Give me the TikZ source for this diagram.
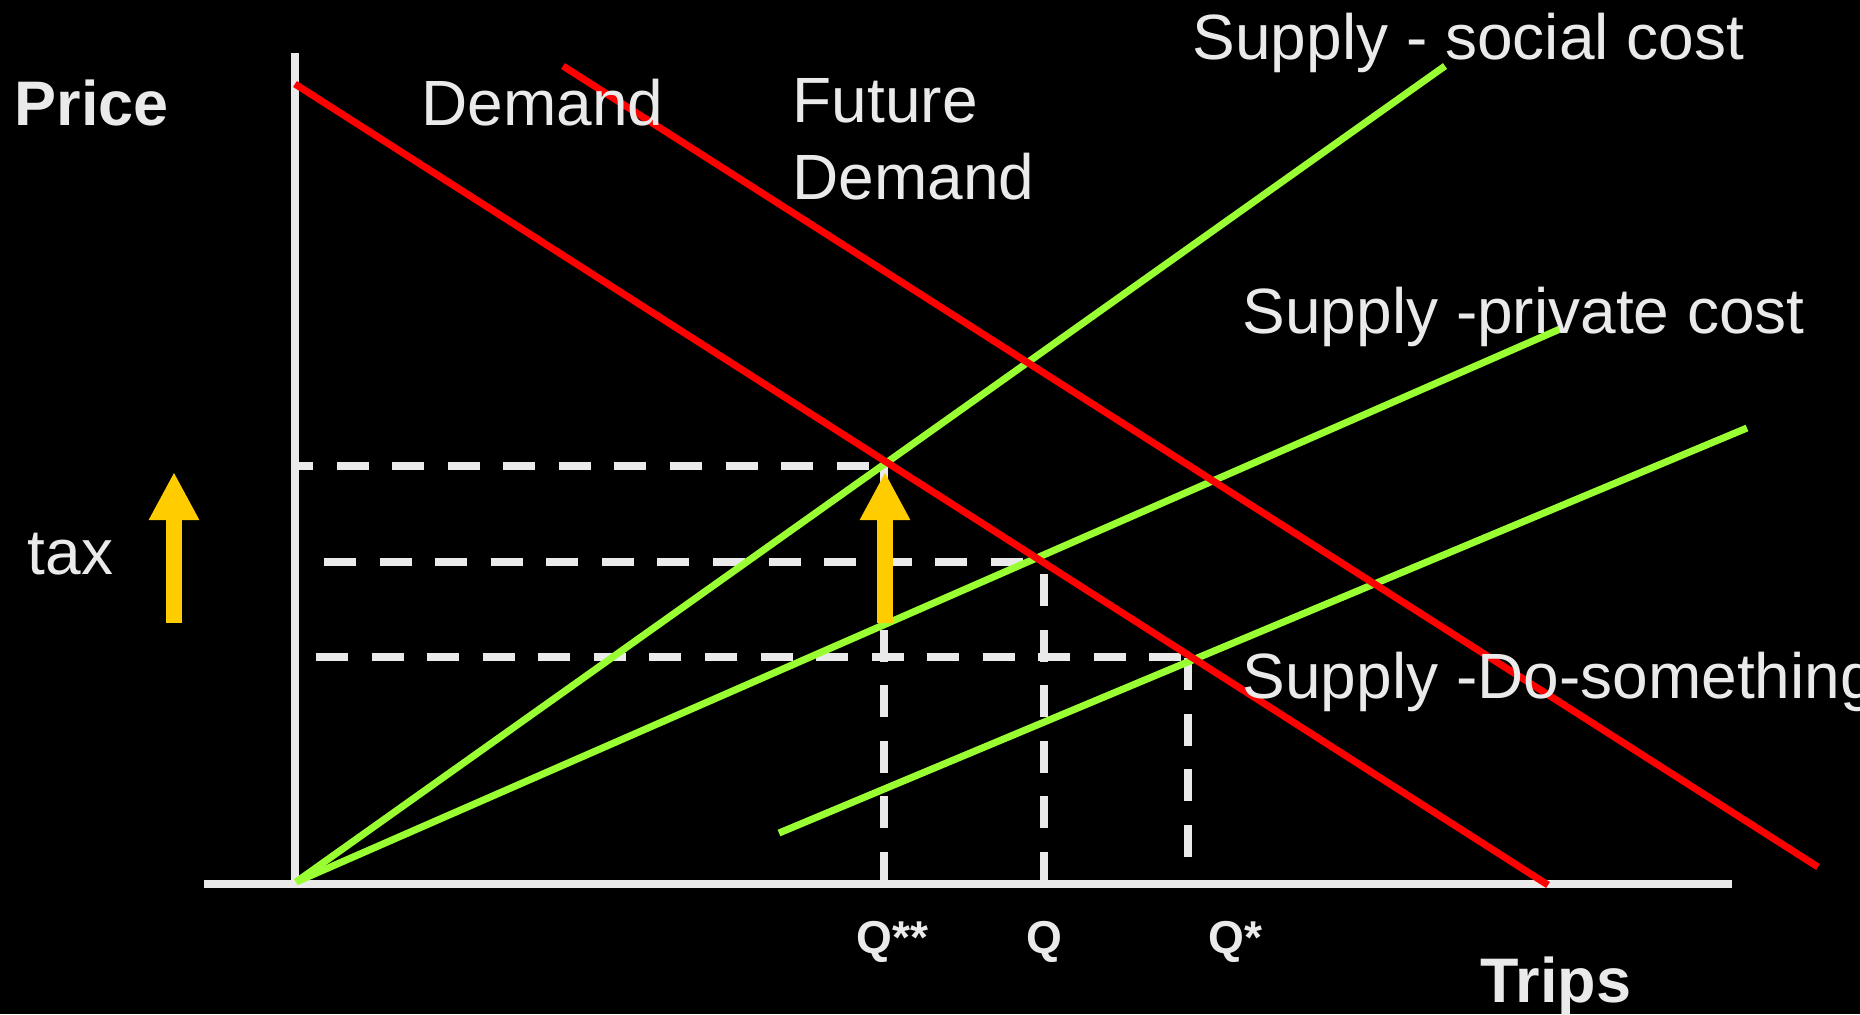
\documentclass[tikz,border=0pt]{standalone}
\usepackage{fontspec}
\setmainfont{Liberation Sans}
\usetikzlibrary{arrows.meta}

\definecolor{demandred}{HTML}{FF0000}
\definecolor{supplygreen}{HTML}{99FF33}
\definecolor{axisgrey}{HTML}{EAEAEA}
\definecolor{taxgold}{HTML}{FFCC00}

\begin{document}
\begin{tikzpicture}[
    x=0.01cm,
    y=-0.01cm,
    axis/.style={draw=axisgrey, line width=2.3pt},
    demand/.style={draw=demandred, line width=2pt},
    supply/.style={draw=supplygreen, line width=2pt},
    guide/.style={draw=axisgrey, line width=2.1pt, dash pattern=on 9.1pt off 6.7pt},
    taxarrow/.style={draw=taxgold, line width=4.5pt, -{Triangle[width=13.4pt,length=13.7pt]}},
    txt/.style={text=axisgrey, inner sep=0pt, anchor=base west, font=\fontsize{18.2}{22}\selectfont},
    axistxt/.style={txt, font=\fontsize{17.9}{22}\selectfont\bfseries},
    qtxt/.style={txt, font=\fontsize{13.1}{16}\selectfont\bfseries}
]

    % Background
    \useasboundingbox (0,0) rectangle (1860,1014);
    \fill[black] (0,0) rectangle (1860,1014);
    \clip (0,0) rectangle (1860,1014);

    % Key points
    \coordinate (origin) at (295,884);
    \coordinate (ytop) at (295,53);
    \coordinate (xleft) at (204,884);
    \coordinate (xright) at (1732,884);
    \coordinate (qss) at (884,884);
    \coordinate (q) at (1044,884);
    \coordinate (qs) at (1188,857);

    % Guide lines
    \draw[guide, dash phase=5.1pt] (299,466) -- (884,466);
    \draw[guide] (324,562) -- (1044,562);
    \draw[guide] (316,657) -- (1188,657);
    \draw[guide] (qss) -- (884,466);
    \draw[guide] (q) -- (1044,562);
    \draw[guide] (qs) -- (1188,657);

    % Axes
    \draw[axis] (ytop) -- (origin);
    \draw[axis] (xleft) -- (xright);

    % Supply curves
    \draw[supply] (296,882) -- (1445,66);
    \draw[supply] (296,882) -- (1560,329);
    \draw[supply] (779,833) -- (1747,428);

    % Demand curves
    \draw[demand] (295,84) -- (1548,885);
    \draw[demand] (563,66) -- (1818,867);

    % Tax arrows
    \draw[taxarrow] (174,623) -- (174,472);
    \draw[taxarrow] (885,623) -- (885,472);

    % Labels
    \node[axistxt] (price) at (14,125) {Price};
    \node[axistxt] (trips) at (1480,1002) {Trips};
    \node[txt] (demandtxt) at (421,125) {Demand};
    \node[txt] (futuretop) at (792,122) {Future};
    \node[txt] (futurebottom) at (792,199) {Demand};
    \node[txt] (social) at (1192,59) {Supply - social cost};
    \node[txt] (private) at (1242,333) {Supply -private cost};
    \node[txt] (dosomething) at (1242,698) {Supply -Do-something};
    \node[txt] (tax) at (27,574) {tax};
    \node[qtxt] (qsslabel) at (856,953) {Q**};
    \node[qtxt] (qlabel) at (1026,953) {Q};
    \node[qtxt] (qslabel) at (1208,953) {Q*};

\end{tikzpicture}
\end{document}
